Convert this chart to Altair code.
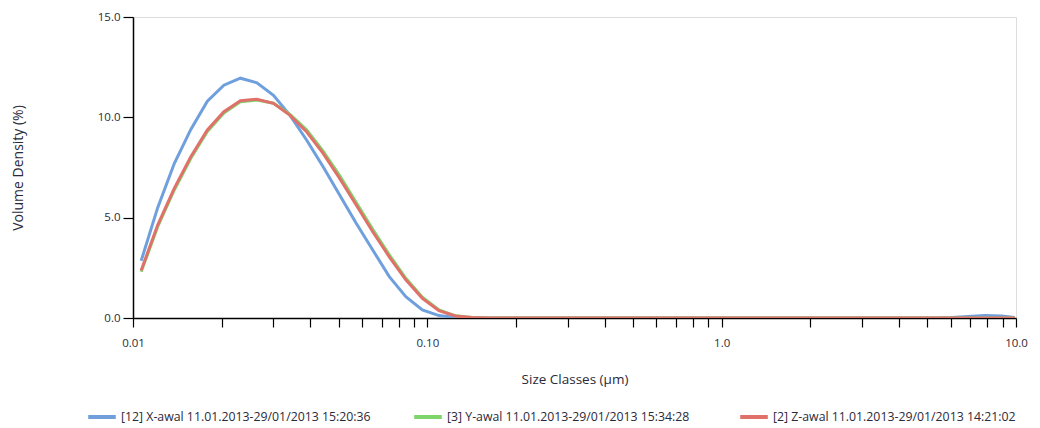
import altair as alt
import pandas as pd

# Size class centres (µm), Mastersizer-style log classes
size_classes = [
    0.01066, 0.01213, 0.01381, 0.01572, 0.01789, 0.02036, 0.02317, 0.02637, 0.03001, 0.03416,
    0.03888, 0.04425, 0.05036, 0.05732, 0.06524, 0.07425, 0.08451, 0.09618, 0.1095, 0.1246,
    0.1418, 0.1614, 0.1837, 0.2091, 0.2380, 0.2708, 0.3083, 0.3508, 0.3993, 0.4545,
    0.5173, 0.5887, 0.6701, 0.7626, 0.8680, 0.9879, 1.124, 1.280, 1.457, 1.658,
    1.887, 2.148, 2.444, 2.782, 3.166, 3.604, 4.102, 4.668, 5.313, 6.047,
    6.883, 7.834, 8.916, 9.90,
]

x_awal = [
    2.85, 5.5, 7.7, 9.4, 10.8, 11.6, 11.95, 11.72, 11.1, 10.1,
    8.87, 7.54, 6.13, 4.72, 3.39, 2.06, 1.06, 0.4, 0.12, 0.02,
    0, 0, 0, 0, 0, 0, 0, 0, 0, 0,
    0, 0, 0, 0, 0, 0, 0, 0, 0, 0,
    0, 0, 0, 0, 0, 0, 0, 0, 0, 0.02,
    0.08, 0.12, 0.1, 0.03,
]

y_awal = [
    2.30, 4.55, 6.38, 7.96, 9.30, 10.22, 10.78, 10.86, 10.70, 10.15,
    9.38, 8.32, 7.10, 5.76, 4.42, 3.15, 1.98, 1.04, 0.40, 0.11,
    0.02, 0, 0, 0, 0, 0, 0, 0, 0, 0,
    0, 0, 0, 0, 0, 0, 0, 0, 0, 0,
    0, 0, 0, 0, 0, 0, 0, 0, 0, 0,
    0, 0, 0, 0,
]

z_awal = [
    2.37, 4.63, 6.46, 8.04, 9.37, 10.28, 10.83, 10.90, 10.70, 10.10,
    9.28, 8.20, 6.96, 5.63, 4.30, 3.05, 1.90, 0.98, 0.37, 0.10,
    0.02, 0, 0, 0, 0, 0, 0, 0, 0, 0,
    0, 0, 0, 0, 0, 0, 0, 0, 0, 0,
    0, 0, 0, 0, 0, 0, 0, 0, 0, 0,
    0, 0, 0, 0,
]

series_names = [
    "[12] X-awal 11.01.2013-29/01/2013 15:20:36",
    "[3] Y-awal 11.01.2013-29/01/2013 15:34:28",
    "[2] Z-awal 11.01.2013-29/01/2013 14:21:02",
]
series_colors = ["#6fa0dd", "#7ed56a", "#e0716a"]

rows = []
for i, (name, vals) in enumerate(zip(series_names, [x_awal, y_awal, z_awal])):
    for s, v in zip(size_classes, vals):
        rows.append({"size": s, "density": v, "series": name, "order": i})
df = pd.DataFrame(rows)

x_ticks = [0.01, 0.02, 0.03, 0.04, 0.05, 0.06, 0.07, 0.08, 0.09,
           0.1, 0.2, 0.3, 0.4, 0.5, 0.6, 0.7, 0.8, 0.9,
           1, 2, 3, 4, 5, 6, 7, 8, 9, 10]

FONT = "Open Sans"
TXT = "#2a2a3a"

chart = alt.Chart(df).mark_line(strokeWidth=3, clip=True).encode(
    x=alt.X(
        "size:Q",
        scale=alt.Scale(type="log", domain=[0.01, 10], nice=False),
        axis=alt.Axis(
            title="Size Classes (µm)",
            values=x_ticks,
            labelExpr="datum.value == 0.01 ? '0.01' : datum.value == 0.1 ? '0.10' : datum.value == 1 ? '1.0' : datum.value == 10 ? '10.0' : ''",
            tickSize=9,
            labelPadding=10,
            titlePadding=24,
            grid=False,
            domainColor="#000",
            tickColor="#000",
            domainWidth=1.5,
            tickWidth=1.2,
            labelFont=FONT,
            labelFontSize=11.5,
            labelColor=TXT,
            titleFont=FONT,
            titleFontSize=13.5,
            titleFontWeight="normal",
            titleColor=TXT,
            labelFlush=False,
        ),
    ),
    y=alt.Y(
        "density:Q",
        scale=alt.Scale(domain=[0, 15], nice=False),
        axis=alt.Axis(
            title="Volume Density (%)",
            values=[0, 5, 10, 15],
            format=".1f",
            tickSize=10,
            labelPadding=3,
            titlePadding=72,
            grid=False,
            domainColor="#000",
            tickColor="#000",
            domainWidth=1.5,
            tickWidth=1.2,
            labelFont=FONT,
            labelFontSize=11.5,
            labelColor=TXT,
            titleFont=FONT,
            titleFontSize=14,
            titleFontWeight="normal",
            titleColor=TXT,
        ),
    ),
    color=alt.Color(
        "series:N",
        scale=alt.Scale(domain=series_names, range=series_colors),
        legend=alt.Legend(
            title=None,
            orient="none",
            legendX=-47,
            legendY=384,
            direction="horizontal",
            columns=3,
            gridAlign="all",
            columnPadding=35,
            symbolType="stroke",
            symbolSize=760,
            symbolStrokeWidth=4,
            symbolOffset=0,
            labelOffset=3,
            labelFont=FONT,
            labelFontSize=12.3,
            labelColor=TXT,
            labelLimit=400,
        ),
    ),
    order=alt.Order("order:Q"),
    detail="series:N",
).properties(
    width=883,
    height=301,
    padding={"left": 133, "top": 17, "right": 24, "bottom": 110},
    autosize=alt.AutoSizeParams(type="none"),
).configure_view(stroke=None).configure(background="white")

chart.save("out.html", embed_options={"renderer": "svg", "actions": False})
